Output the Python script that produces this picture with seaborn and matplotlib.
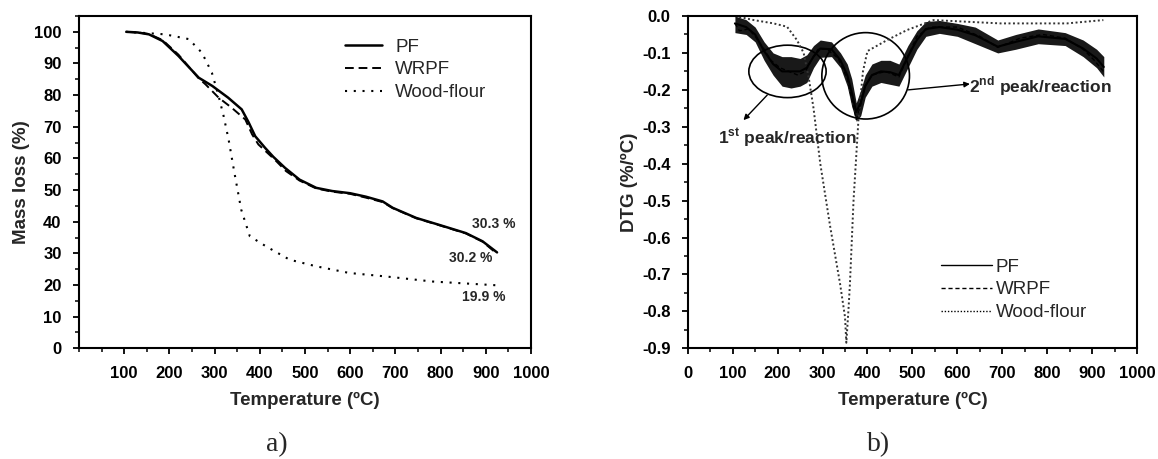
import numpy as np
import matplotlib
matplotlib.use('Agg')
import matplotlib.pyplot as plt
import seaborn as sns
from matplotlib.patches import Ellipse
from matplotlib.ticker import MultipleLocator, FormatStrFormatter

sns.set_style('ticks')
plt.rcParams['font.family'] = ['Liberation Sans', 'DejaVu Sans']
plt.rcParams['axes.unicode_minus'] = False
plt.rcParams['mathtext.fontset'] = 'custom'
plt.rcParams['mathtext.rm'] = 'Liberation Sans'
plt.rcParams['mathtext.bf'] = 'Liberation Sans:bold'

# ---- a) TG curves (mass loss %) ----
pf_t = [105, 130, 155, 185, 220, 265, 295, 330, 360, 375, 390, 412, 430, 456, 488,
        525, 560, 600, 635, 672, 694, 746, 797, 856, 893, 925]
pf_m = [100, 99.8, 99.2, 97.1, 92.4, 85.5, 82.9, 79.2, 75.5, 71.5, 67.0, 63.3, 60.5,
        57.0, 53.3, 50.7, 49.7, 49.0, 47.9, 46.4, 44.4, 41.2, 39.0, 36.4, 33.8, 30.3]

wrpf_t = [105, 130, 155, 185, 220, 265, 280, 309, 338, 368, 383, 397, 434, 458, 488,
          525, 560, 600, 635, 672, 694, 746, 797, 856, 893, 922]
wrpf_m = [100, 99.8, 99.3, 97.4, 92.8, 85.3, 83.4, 79.2, 76.0, 72.3, 67.6, 64.4, 59.5,
          56.0, 53.0, 50.5, 49.5, 48.8, 47.6, 46.2, 44.3, 41.1, 38.9, 36.3, 33.7, 30.2]

wf_t = [103, 150, 191, 243, 272, 294, 309, 320, 331, 344, 359, 378, 414, 466, 525,
        598, 679, 782, 925]
wf_m = [100, 99.6, 99.2, 97.7, 93.4, 87.1, 79.7, 73.4, 66.0, 55.4, 43.8, 35.4, 32.2,
        28.0, 25.9, 23.8, 22.7, 21.1, 19.9]

# ---- b) DTG curves (%/ºC) ----
# PF: noisy band, read as upper / lower edge of the trace
dpf_t = [105, 130, 150, 170, 190, 210, 230, 250, 265, 280, 295, 320, 340, 355, 365,
         375, 385, 395, 410, 430, 450, 470, 490, 510, 530, 560, 600, 640, 690, 730,
         780, 840, 880, 910, 926]
dpf_hi = [0.0, -0.01, -0.03, -0.07, -0.10, -0.11, -0.11, -0.115, -0.105, -0.08,
          -0.065, -0.07, -0.10, -0.13, -0.17, -0.235, -0.20, -0.16, -0.13, -0.12,
          -0.12, -0.13, -0.08, -0.04, -0.015, -0.012, -0.02, -0.03, -0.065, -0.05,
          -0.035, -0.045, -0.065, -0.09, -0.11]
dpf_lo = [-0.045, -0.05, -0.07, -0.12, -0.16, -0.19, -0.195, -0.19, -0.18, -0.14,
          -0.112, -0.11, -0.14, -0.19, -0.245, -0.285, -0.27, -0.22, -0.19, -0.18,
          -0.185, -0.19, -0.14, -0.09, -0.055, -0.047, -0.055, -0.075, -0.10, -0.09,
          -0.075, -0.08, -0.11, -0.14, -0.165]
dpf_d = [-0.02, -0.03, -0.05, -0.095, -0.13, -0.15, -0.15, -0.15, -0.14, -0.11,
         -0.088, -0.09, -0.12, -0.16, -0.207, -0.26, -0.235, -0.19, -0.16, -0.15,
         -0.152, -0.16, -0.11, -0.065, -0.035, -0.03, -0.037, -0.052, -0.083, -0.07,
         -0.055, -0.062, -0.088, -0.115, -0.138]

dwr_t = [105, 115, 135, 150, 170, 185, 205, 225, 245, 262, 275, 290, 310, 335, 355,
         365, 375, 385, 395, 410, 440, 470, 490, 510, 540, 600, 650, 690, 740, 790,
         840, 880, 905, 925]
dwr_d = [-0.02, -0.04, -0.035, -0.055, -0.09, -0.12, -0.14, -0.15, -0.16, -0.15,
         -0.12, -0.09, -0.09, -0.115, -0.17, -0.225, -0.28, -0.24, -0.19, -0.16,
         -0.15, -0.165, -0.11, -0.055, -0.03, -0.03, -0.055, -0.085, -0.06, -0.05,
         -0.06, -0.09, -0.12, -0.15]

dwf_t = [105, 147, 191, 221, 243, 258, 269, 280, 295, 317, 339, 350, 353, 358, 361,
         369, 380, 390, 400, 444, 488, 547, 696, 844, 925]
dwf_d = [0.0, -0.011, -0.02, -0.029, -0.065, -0.10, -0.165, -0.25, -0.40, -0.57,
         -0.725, -0.815, -0.885, -0.79, -0.725, -0.50, -0.28, -0.15, -0.095, -0.065,
         -0.038, -0.011, -0.02, -0.02, -0.011]

fig = plt.figure(figsize=(11.58, 4.59), dpi=100)
ax1 = fig.add_axes([0.0682, 0.2412, 0.3903, 0.7239])
ax2 = fig.add_axes([0.5939, 0.2412, 0.3880, 0.7239])

# panel a
sns.lineplot(x=pf_t, y=pf_m, ax=ax1, color='black', lw=1.8, label='PF')
sns.lineplot(x=wrpf_t, y=wrpf_m, ax=ax1, color='black', lw=1.4,
             linestyle=(0, (4.5, 2.5)), label='WRPF')
sns.lineplot(x=wf_t, y=wf_m, ax=ax1, color='black', lw=1.5,
             linestyle=(0, (1, 3.2)), label='Wood-flour')

ax1.set_xlim(0, 1000)
ax1.set_ylim(0, 105)
ax1.set_xticks(range(100, 1001, 100))
ax1.xaxis.set_minor_locator(MultipleLocator(50))
ax1.yaxis.set_major_locator(MultipleLocator(10))
ax1.yaxis.set_minor_locator(MultipleLocator(5))
ax1.set_xlabel('Temperature (ºC)', fontsize=13.5, fontweight='bold', labelpad=8)
ax1.set_ylabel('Mass loss (%)', fontsize=13.5, fontweight='bold', labelpad=3)

leg1 = ax1.legend(loc='upper left', bbox_to_anchor=(0.588, 0.932), frameon=False,
                  fontsize=13.5, handlelength=2.0, handletextpad=0.7,
                  labelspacing=0.3, borderpad=0, borderaxespad=0)

ax1.text(918, 39.4, '30.3 %', fontsize=10, fontweight='bold', ha='center', va='center')
ax1.text(867, 28.6, '30.2 %', fontsize=10, fontweight='bold', ha='center', va='center')
ax1.text(896, 16.3, '19.9 %', fontsize=10, fontweight='bold', ha='center', va='center')

# panel b
sns.lineplot(x=dwf_t, y=dwf_d, ax=ax2, color='0.2', lw=1.4,
             linestyle=(0, (1, 1.3)), label='Wood-flour')
ax2.fill_between(dpf_t, dpf_lo, dpf_hi, color='black', alpha=0.9, lw=0)
sns.lineplot(x=dpf_t, y=dpf_d, ax=ax2, color='black', lw=1.5, label='PF')
sns.lineplot(x=dwr_t, y=dwr_d, ax=ax2, color='black', lw=1.0,
             linestyle=(0, (3, 2)), label='WRPF')

ax2.set_xlim(0, 1000)
ax2.set_ylim(-0.9, 0.0)
ax2.xaxis.set_major_locator(MultipleLocator(100))
ax2.xaxis.set_minor_locator(MultipleLocator(50))
ax2.yaxis.set_major_locator(MultipleLocator(0.1))
ax2.yaxis.set_minor_locator(MultipleLocator(0.05))
ax2.yaxis.set_major_formatter(FormatStrFormatter('%.1f'))
ax2.set_xlabel('Temperature (ºC)', fontsize=13.5, fontweight='bold', labelpad=8)
ax2.set_ylabel('DTG (%/ºC)', fontsize=13.5, fontweight='bold', labelpad=3)

handles, labels = ax2.get_legend_handles_labels()
order = [labels.index(k) for k in ['PF', 'WRPF', 'Wood-flour']]
leg2 = ax2.legend([handles[i] for i in order], [labels[i] for i in order],
                  loc='upper left', bbox_to_anchor=(0.564, 0.27), frameon=False,
                  fontsize=13.5, handlelength=2.7, handletextpad=0.2,
                  labelspacing=0.3, borderpad=0, borderaxespad=0)
for ln in leg2.get_lines():
    ln.set_linewidth(1.0)
    ln.set_color('black')

ax2.add_patch(Ellipse((222, -0.150), 172, 0.142, fill=False, lw=1.2, color='black'))
ax2.add_patch(Ellipse((396, -0.162), 195, 0.234, fill=False, lw=1.2, color='black'))
ax2.annotate('', xy=(124, -0.282), xytext=(177, -0.214),
             arrowprops=dict(arrowstyle='-|>', color='black', lw=1.0,
                             mutation_scale=8, shrinkA=0, shrinkB=0))
ax2.annotate('', xy=(628, -0.184), xytext=(491, -0.200),
             arrowprops=dict(arrowstyle='-|>', color='black', lw=1.0,
                             mutation_scale=8, shrinkA=0, shrinkB=0))
ax2.text(222, -0.33, r'1$^{\mathbf{st}}$ peak/reaction', fontsize=12.5,
         fontweight='bold', ha='center', va='center')
ax2.text(785, -0.19, r'2$^{\mathbf{nd}}$ peak/reaction', fontsize=12.5,
         fontweight='bold', ha='center', va='center')

for ax in (ax1, ax2):
    for sp in ax.spines.values():
        sp.set_linewidth(1.5)
        sp.set_color('black')
    ax.tick_params(which='major', direction='out', length=4.5, width=1.3,
                   labelsize=12, pad=8, colors='black')
    ax.tick_params(which='minor', direction='out', length=3, width=1.3)
    for lab in ax.get_xticklabels() + ax.get_yticklabels():
        lab.set_fontweight('bold')

fig.text(0.239, 1 - 445 / 459, 'a)', fontsize=20, family='Liberation Serif',
         ha='center', va='center')
fig.text(0.759, 1 - 445 / 459, 'b)', fontsize=20, family='Liberation Serif',
         ha='center', va='center')

fig.savefig('out.png', dpi=100)
